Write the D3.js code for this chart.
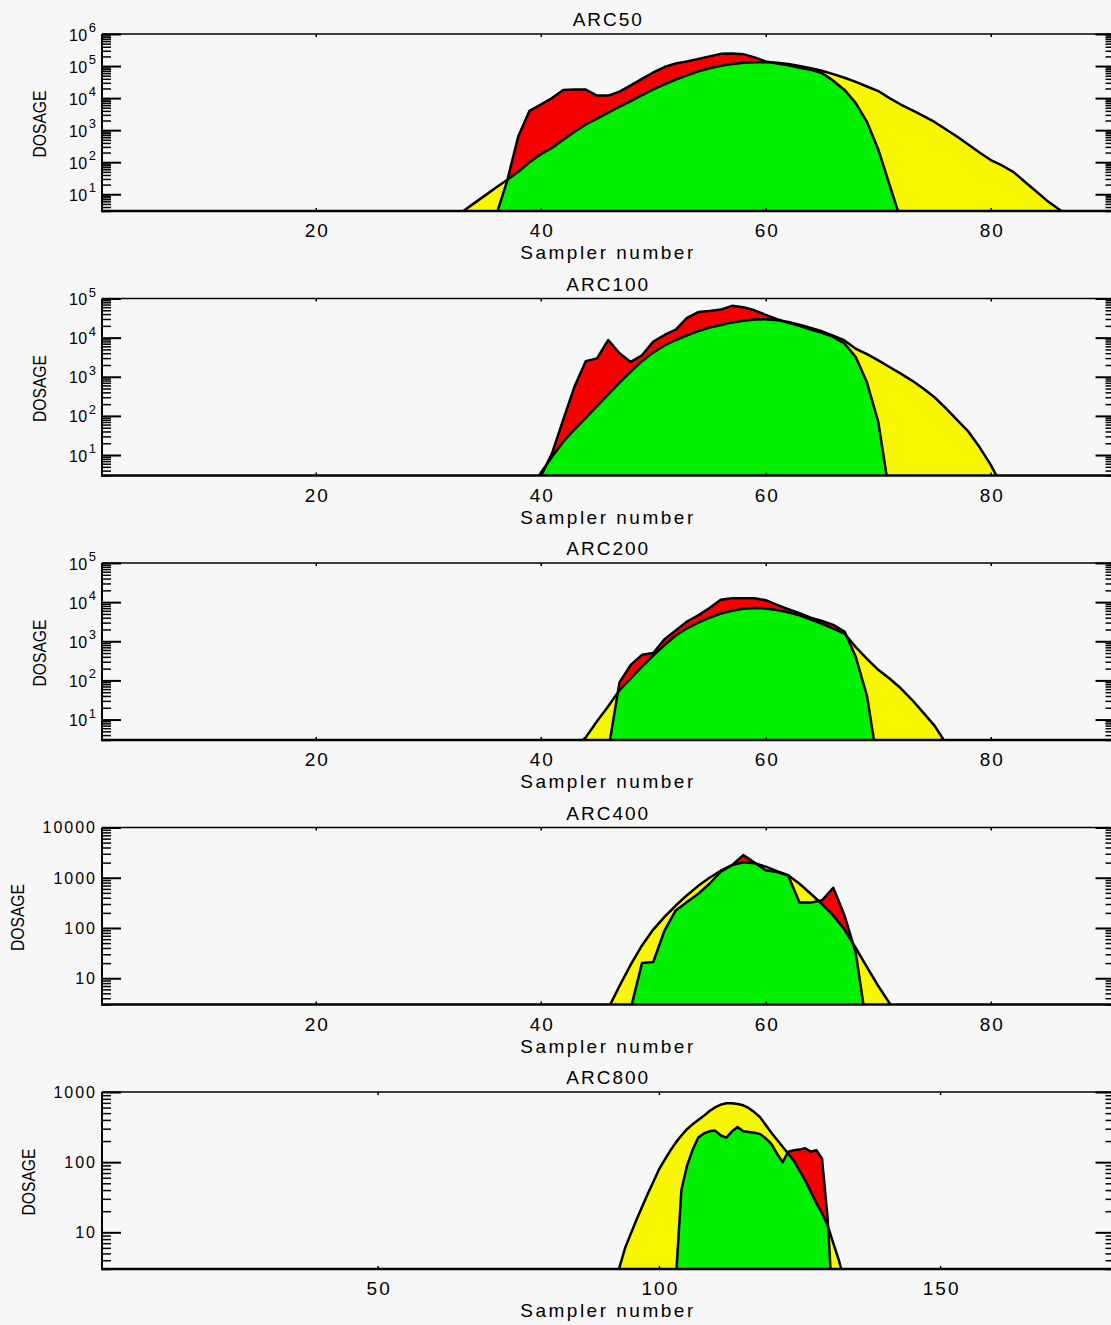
<!DOCTYPE html>
<html><head><meta charset="utf-8">
<script src="https://cdn.jsdelivr.net/npm/d3@7"></script>
<style>
body{margin:0;background:#f7f7f7;}
text{font-family:"Liberation Sans",Arial,sans-serif;fill:#000;}
</style></head><body>
<svg id="chart" width="1111" height="1325"></svg>
<script>
// ---------------- DATA ----------------
const titles = ["ARC50", "ARC100", "ARC200", "ARC400", "ARC800"];
const xDomains = [[1, 91], [1, 91], [1, 91], [1, 91], [1, 181]];
const yDomains = [[3, 1e6], [3, 1e5], [3, 1e5], [3, 1e4], [3, 1e3]];
const xTickValues = [[20, 40, 60, 80], [20, 40, 60, 80], [20, 40, 60, 80], [20, 40, 60, 80], [50, 100, 150]];
const yLabelPower = [true, true, true, false, false];
const xAxisTitle = "Sampler number";
const yAxisTitle = "DOSAGE";

// observed dosage (jagged curve), first sampler + values
const arc50ObsStart = 36;
const arc50Obs = [2, 25, 630, 4000, 6300, 1.0e4, 1.8e4, 1.85e4, 1.85e4, 1.2e4, 1.2e4, 1.6e4, 2.5e4, 4.0e4, 6.3e4, 9.3e4, 1.2e5, 1.4e5, 1.66e5, 2.0e5, 2.4e5, 2.45e5, 2.35e5, 1.86e5, 1.4e5, 1.2e5, 1.05e5, 8.9e4, 7.6e4, 6.0e4, 3.5e4, 1.8e4, 7000, 1800, 250, 20, 1.6];
// predicted dosage (smooth curve)
const arc50ModelStart = 33;
const arc50Model = [2.8, 5, 8.9, 16, 28, 50, 100, 178, 280, 500, 890, 1500, 2300, 3500, 5400, 8100, 1.23e4, 1.86e4, 2.7e4, 3.8e4, 5.1e4, 6.8e4, 8.5e4, 1.02e5, 1.15e5, 1.26e5, 1.32e5, 1.32e5, 1.26e5, 1.15e5, 1.0e5, 8.5e4, 7.1e4, 5.6e4, 4.3e4, 3.2e4, 2.3e4, 1.66e4, 1.0e4, 6300, 4200, 2800, 1800, 1070, 630, 355, 200, 117, 79, 50, 25, 12.6, 6.3, 3.5, 2];

const arc100ObsStart = 39;
const arc100Obs = [1, 2.8, 11, 80, 560, 2500, 2950, 8700, 4000, 2400, 3550, 7900, 1.17e4, 1.6e4, 3.2e4, 4.5e4, 4.8e4, 5.2e4, 6.5e4, 6.0e4, 5.0e4, 3.8e4, 2.95e4, 2.4e4, 2.0e4, 1.62e4, 1.32e4, 1.05e4, 7100, 3200, 710, 71, 1];
const arc100ModelStart = 39;
const arc100Model = [1, 3.5, 9, 22, 45, 89, 178, 355, 710, 1350, 2500, 4200, 6300, 8700, 1.15e4, 1.48e4, 1.82e4, 2.1e4, 2.45e4, 2.7e4, 2.9e4, 2.95e4, 2.8e4, 2.5e4, 2.15e4, 1.78e4, 1.45e4, 1.12e4, 8500, 5200, 3800, 2630, 1780, 1200, 800, 500, 300, 158, 79, 40, 16, 5.6, 1.6];

const arc200ObsStart = 45;
const arc200Obs = [0.3, 1.6, 89, 250, 450, 500, 1120, 1900, 3200, 4600, 7100, 1.15e4, 1.26e4, 1.26e4, 1.26e4, 1.12e4, 8500, 6600, 5200, 4000, 3300, 2630, 1780, 400, 40, 0.6];
const arc200ModelStart = 43;
const arc200Model = [2, 3.5, 9, 22, 56, 112, 224, 430, 800, 1400, 2150, 3000, 4000, 5100, 6000, 6800, 7100, 6900, 6300, 5500, 4600, 3600, 2800, 2100, 1580, 710, 355, 186, 112, 63, 32, 15, 7, 2.5];

const arc400ObsStart = 47;
const arc400Obs = [0.3, 2.5, 20, 21, 89, 224, 330, 480, 760, 1320, 1780, 2820, 2000, 1410, 1300, 1100, 320, 320, 355, 630, 178, 32, 1];
const arc400ModelStart = 45;
const arc400Model = [0.5, 2.5, 7, 18.6, 45, 93, 166, 280, 450, 690, 1000, 1380, 1780, 2040, 1950, 1660, 1350, 1120, 760, 480, 300, 178, 93, 40, 16.6, 7, 3.2, 1];

const arc800ObsStart = 102;
const arc800Obs = [0.3, 2, 40, 89, 150, 224, 257, 275, 282, 240, 224, 275, 316, 275, 269, 263, 251, 219, 182, 132, 100, 141, 148, 151, 158, 141, 148, 112, 16, 0.6];
const arc800ModelStart = 92;
const arc800Model = [1.26, 3.2, 6, 9.5, 15, 23, 35, 52, 78, 107, 145, 190, 240, 295, 347, 400, 457, 537, 603, 661, 692, 692, 676, 646, 589, 513, 437, 339, 263, 209, 166, 132, 105, 76, 55, 38, 26, 18.6, 12.6, 7, 4, 2];

const obsStarts = [arc50ObsStart, arc100ObsStart, arc200ObsStart, arc400ObsStart, arc800ObsStart];
const obsSeries = [arc50Obs, arc100Obs, arc200Obs, arc400Obs, arc800Obs];
const modelStarts = [arc50ModelStart, arc100ModelStart, arc200ModelStart, arc400ModelStart, arc800ModelStart];
const modelSeries = [arc50Model, arc100Model, arc200Model, arc400Model, arc800Model];

// ---------------- LAYOUT / STYLE ----------------
const RED = "#f70000", GREEN = "#00f000", YELLOW = "#f7f700", BG = "#f7f7f7";
const FONT = '"Liberation Sans", Arial, sans-serif';
const L = 102, R = 1114.5, H = 177;
const panelTops = [34, 298.5, 563, 827.5, 1092];
const dosageX = [40, 40, 40, 18, 29];

const svg = d3.select("#chart");
svg.append("rect").attr("width", 1111).attr("height", 1325).attr("fill", BG);

titles.forEach((title, i) => {
  const top = panelTops[i];
  const g = svg.append("g").attr("transform", `translate(0,${top})`);
  const x = d3.scaleLinear().domain(xDomains[i]).range([L, R]);
  const y = d3.scaleLog().domain(yDomains[i]).range([H, 0]);

  const obs = obsSeries[i].map((v, k) => [obsStarts[i] + k, v]);
  const mod = modelSeries[i].map((v, k) => [modelStarts[i] + k, v]);

  const area = d3.area().x(d => x(d[0])).y0(H + 30).y1(d => y(d[1]));
  const line = d3.line().x(d => x(d[0])).y(d => y(d[1]));

  const defs = g.append("defs");
  defs.append("clipPath").attr("id", "plot" + i)
    .append("rect").attr("x", L).attr("y", 0).attr("width", R - L).attr("height", H);
  defs.append("clipPath").attr("id", "model" + i)
    .append("path").attr("d", area(mod));

  const pg = g.append("g").attr("clip-path", `url(#plot${i})`);
  pg.append("path").attr("d", area(mod)).attr("fill", YELLOW);
  pg.append("path").attr("d", area(obs)).attr("fill", RED);
  pg.append("path").attr("d", area(obs)).attr("fill", GREEN).attr("clip-path", `url(#model${i})`);
  pg.append("path").attr("d", line(mod)).attr("fill", "none").attr("stroke", "#000")
    .attr("stroke-width", 2.5).attr("stroke-linejoin", "round");
  pg.append("path").attr("d", line(obs)).attr("fill", "none").attr("stroke", "#000")
    .attr("stroke-width", 2.5).attr("stroke-linejoin", "round");

  // log ticks
  const [ya, yb] = yDomains[i];
  const majors = [], minors = [];
  for (let e = Math.floor(Math.log10(ya)); e <= Math.ceil(Math.log10(yb)); e++) {
    for (let k = 1; k < 10; k++) {
      const v = k * Math.pow(10, e);
      if (v >= ya * 0.999 && v <= yb * 1.001) (k === 1 ? majors : minors).push(v);
    }
  }

  // left axis
  const leftMinor = g.append("g").attr("transform", `translate(${L},0)`)
    .call(d3.axisLeft(y).tickValues(minors).tickSize(-9).tickSizeOuter(0).tickFormat(""));
  leftMinor.select(".domain").remove();
  leftMinor.selectAll("line").attr("stroke", "#000").attr("stroke-width", 1.5);

  const leftMajor = g.append("g").attr("transform", `translate(${L},0)`)
    .call(d3.axisLeft(y).tickValues(majors).tickSize(-19).tickSizeOuter(0)
      .tickPadding(yLabelPower[i] ? 6 : 5).tickFormat(d3.format("d")));
  leftMajor.select(".domain").remove();
  leftMajor.attr("font-family", FONT).attr("font-size", 16);
  leftMajor.selectAll("line").attr("stroke", "#000").attr("stroke-width", 2);
  if (yLabelPower[i]) {
    leftMajor.selectAll(".tick text").each(function (d) {
      const t = d3.select(this);
      t.text(null).attr("dy", null).attr("y", 6).attr("fill", "#000");
      t.append("tspan").attr("letter-spacing", 0.5).text("10");
      t.append("tspan").attr("dy", -8.5).attr("dx", 1).attr("font-size", 13)
        .text(Math.round(Math.log10(d)));
    });
  } else {
    leftMajor.selectAll(".tick text").attr("letter-spacing", 2).attr("dy", "0.34em").attr("fill", "#000");
  }

  // right axis
  const rightMinor = g.append("g").attr("transform", `translate(${R},0)`)
    .call(d3.axisRight(y).tickValues(minors).tickSize(-9).tickSizeOuter(0).tickFormat(""));
  rightMinor.select(".domain").remove();
  rightMinor.selectAll("line").attr("stroke", "#000").attr("stroke-width", 1.5);
  const rightMajor = g.append("g").attr("transform", `translate(${R},0)`)
    .call(d3.axisRight(y).tickValues(majors).tickSize(-19).tickSizeOuter(0).tickFormat(""));
  rightMajor.select(".domain").remove();
  rightMajor.selectAll("line").attr("stroke", "#000").attr("stroke-width", 2);

  // x axes
  const bottom = g.append("g").attr("transform", `translate(0,${H})`)
    .call(d3.axisBottom(x).tickValues(xTickValues[i]).tickSize(-3).tickSizeOuter(0).tickPadding(13));
  bottom.select(".domain").remove();
  bottom.attr("font-family", FONT).attr("font-size", 19);
  bottom.selectAll("line").attr("stroke", "#000").attr("stroke-width", 1.5);
  bottom.selectAll("text").attr("letter-spacing", 2).attr("dx", 1).attr("fill", "#000");

  const topAx = g.append("g").attr("transform", `translate(0,0)`)
    .call(d3.axisTop(x).tickValues(xTickValues[i]).tickSize(-3).tickSizeOuter(0).tickFormat(""));
  topAx.select(".domain").remove();
  topAx.selectAll("line").attr("stroke", "#000").attr("stroke-width", 1.5);

  // frame
  g.append("line").attr("x1", L).attr("x2", R).attr("y1", 0).attr("y2", 0).attr("stroke", "#000").attr("stroke-width", 1.5);
  g.append("line").attr("x1", L).attr("x2", R).attr("y1", H).attr("y2", H).attr("stroke", "#000").attr("stroke-width", 2.5);
  g.append("line").attr("x1", L).attr("x2", L).attr("y1", 0).attr("y2", H + 1.25).attr("stroke", "#000").attr("stroke-width", 2);
  g.append("line").attr("x1", R).attr("x2", R).attr("y1", 0).attr("y2", H + 1.25).attr("stroke", "#000").attr("stroke-width", 2);

  // texts
  g.append("text").attr("x", (L + R) / 2).attr("y", -8).attr("text-anchor", "middle")
    .attr("font-size", 19).attr("letter-spacing", 2).text(title);
  g.append("text").attr("x", 608).attr("y", H + 48).attr("text-anchor", "middle")
    .attr("font-size", 19).attr("letter-spacing", 2.5).text(xAxisTitle);
  g.append("text").attr("transform", `translate(${dosageX[i]},${H / 2 + 1.5}) rotate(-90)`)
    .attr("text-anchor", "middle").attr("dy", "0.36em").attr("font-size", 18)
    .attr("textLength", 67).attr("lengthAdjust", "spacingAndGlyphs").text(yAxisTitle);
});
</script>
</body></html>
